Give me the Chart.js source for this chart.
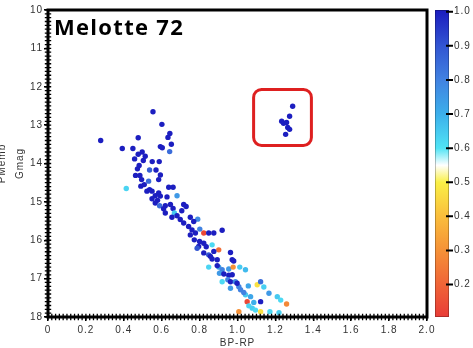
<!DOCTYPE html>
<html>
<head>
<meta charset="utf-8">
<title>Melotte 72 CMD</title>
<script src="https://cdn.jsdelivr.net/npm/chart.js@4.4.1/dist/chart.umd.min.js"></script>
<style>
  html, body { margin: 0; padding: 0; background: #fff; }
  #wrap { width: 473px; height: 348px; }
</style>
</head>
<body>
<div id="wrap"><canvas id="cmd"></canvas></div>
<script>
// Gaia colour, G magnitude and membership probability for each star
const bpRp = [
  0.554, 0.601, 0.643, 0.633, 0.651, 0.593, 0.603, 0.642, 0.278, 0.392,
  0.476, 0.448, 0.497, 0.476, 0.513, 0.457, 0.503, 0.550, 0.587, 0.481,
  0.472, 0.536, 0.570, 0.462, 0.485, 0.593, 0.494, 0.531, 0.584, 0.490,
  0.413, 0.536, 0.549, 0.637, 0.660, 0.566, 0.593, 0.681, 0.549, 0.578,
  0.628, 0.566, 0.589, 0.646, 0.716, 0.729, 0.610, 0.660, 0.667, 0.654,
  0.681, 0.751, 0.790, 0.522, 0.508, 0.584, 0.619, 0.619, 0.698, 0.716,
  0.769, 0.706, 0.742, 0.760, 0.778, 0.751, 0.772, 0.800, 0.822, 0.795,
  0.835, 0.787, 0.822, 0.848, 0.875, 0.919, 0.801, 0.866, 0.901, 0.822,
  0.848, 0.875, 0.866, 0.893, 0.963, 0.972, 0.980, 0.848, 0.901, 0.919,
  0.954, 0.977, 1.012, 1.042, 0.905, 0.928, 0.954, 0.972, 0.919, 0.949,
  0.963, 0.989, 1.007, 0.963, 1.016, 1.057, 1.104, 1.122, 1.139, 1.042,
  1.069, 1.051, 1.122, 1.166, 1.210, 1.228, 1.259, 1.060, 1.078, 1.095,
  1.086, 1.007, 1.122, 1.171, 1.219, 1.033, 0.893, 0.857, 0.998,
  1.291, 1.275, 1.233, 1.243, 1.259, 1.265, 1.275, 1.254
];
const gMag = [
  12.65, 12.98, 13.22, 13.32, 13.50, 13.56, 13.59, 13.69, 13.40, 13.61,
  13.33, 13.61, 13.70, 13.76, 13.81, 13.88, 13.92, 13.95, 13.95, 14.05,
  14.14, 14.17, 14.17, 14.31, 14.31, 14.30, 14.42, 14.46, 14.42, 14.59,
  14.65, 14.68, 14.72, 14.62, 14.62, 14.84, 14.85, 14.84, 14.92, 14.96,
  14.87, 15.03, 15.10, 15.07, 15.07, 15.12, 15.18, 15.17, 15.29, 15.40,
  15.36, 15.40, 15.45, 14.72, 14.55, 14.77, 15.10, 15.29, 15.46, 15.55,
  15.51, 15.23, 15.64, 15.73, 15.81, 15.86, 15.99, 16.03, 16.08, 16.16,
  16.17, 16.21, 15.81, 15.81, 15.81, 15.74, 15.71, 16.12, 16.25, 16.33,
  16.38, 16.29, 16.49, 16.51, 16.32, 16.51, 16.54, 16.70, 16.70, 16.77,
  16.75, 16.70, 16.70, 16.77, 16.86, 16.88, 16.91, 16.90, 17.08, 17.03,
  17.08, 17.08, 17.21, 17.25, 17.29, 17.19, 17.16, 17.08, 17.22, 17.42,
  17.47, 17.60, 17.60, 17.38, 17.47, 17.56, 17.66, 17.71, 17.77, 17.82,
  17.62, 17.86, 17.86, 17.86, 17.89, 17.36, 16.66, 16.42, 17.12,
  12.51, 12.77, 12.90, 12.95, 12.93, 13.06, 13.11, 13.24
];
const pMemb = [
  1, 1, 1, 1, 1, 1, 1, 0.85, 1, 1,
  1, 1, 1, 1, 1, 1, 1, 1, 1, 1,
  1, 0.88, 1, 1, 1, 1, 1, 0.85, 1, 1,
  0.63, 1, 1, 1, 1, 1, 1, 0.75, 1, 1,
  1, 1, 0.85, 1, 1, 1, 1, 1, 0.65, 1,
  1, 1, 0.78, 1, 1, 1, 1, 1, 1, 1,
  1, 1, 1, 1, 1, 1, 1, 1, 1, 1,
  1, 0.9, 0.13, 1, 1, 1, 0.8, 0.62, 0.22, 1,
  0.9, 1, 1, 1, 1, 1, 1, 0.63, 0.75, 0.8,
  0.75, 0.3, 0.65, 0.68, 0.75, 1, 1, 1, 0.62, 0.8,
  1, 0.78, 0.8, 0.75, 0.8, 0.72, 0.47, 0.85, 0.64, 0.65,
  0.72, 0.13, 1, 0.75, 0.65, 0.62, 0.28, 0.63, 0.64, 0.62,
  0.7, 0.3, 0.47, 0.62, 0.64, 0.8, 1, 1, 1,
  1, 1, 1, 1, 1, 1, 1, 1
];

const xTicks = [0, 0.2, 0.4, 0.6, 0.8, 1.0, 1.2, 1.4, 1.6, 1.8, 2.0];
const yTicks = [10, 11, 12, 13, 14, 15, 16, 17, 18];
const pTicks = [0.2, 0.3, 0.4, 0.5, 0.6, 0.7, 0.8, 0.9, 1.0];

const clusterName = 'Melotte 72';
// highlighted group of bright red stars
const boxBp = [1.085, 1.39];
const boxG = [12.07, 13.53];

// probability -> colour, shared by the markers and the colour bar
const cmap = [
  [0.10, [232, 60, 55]],
  [0.20, [240, 100, 55]],
  [0.30, [245, 145, 55]],
  [0.40, [250, 190, 60]],
  [0.50, [250, 240, 70]],
  [0.55, [255, 255, 255]],
  [0.60, [80, 228, 245]],
  [0.70, [60, 175, 235]],
  [0.80, [65, 130, 225]],
  [0.90, [50, 85, 210]],
  [1.00, [28, 30, 192]]
];

function rgb(c) { return `rgb(${c.join(',')})`; }

function probColor(p) {
  for (let i = 1; i < cmap.length; i++) {
    if (p <= cmap[i][0]) {
      const [v0, c0] = cmap[i - 1];
      const [v1, c1] = cmap[i];
      const t = Math.max(0, (p - v0) / (v1 - v0));
      return rgb(c0.map((k, j) => Math.round(k + (c1[j] - k) * t)));
    }
  }
  return rgb(cmap[cmap.length - 1][1]);
}

const family = '"Liberation Sans", Arial, sans-serif';
const tickFont = { family: family, size: 10 };

// frame, minor ticks, colour bar, cluster name and highlight box
const decorations = {
  id: 'decorations',
  beforeDraw(chart) {
    chart.ctx.letterSpacing = '1px';
  },
  afterDraw(chart) {
    const ctx = chart.ctx;
    const area = chart.chartArea;
    const xs = chart.scales.x;
    const ys = chart.scales.y;
    const pm = chart.scales.pm;

    ctx.save();
    ctx.strokeStyle = '#000';

    // minor ticks
    ctx.lineWidth = 1.3;
    ctx.beginPath();
    for (let i = 0; i <= 100; i++) {
      const px = xs.getPixelForValue(i / 50);
      ctx.moveTo(px, area.bottom - 3.2);
      ctx.lineTo(px, area.bottom + 3.2);
    }
    for (let i = 0; i <= 80; i++) {
      const py = ys.getPixelForValue(10 + i / 10);
      ctx.moveTo(area.left - 3.2, py);
      ctx.lineTo(area.left + 3.2, py);
    }
    ctx.stroke();

    ctx.lineWidth = 3;
    ctx.strokeRect(area.left, area.top, area.right - area.left, area.bottom - area.top);

    // highlight box
    const bx0 = xs.getPixelForValue(boxBp[0]);
    const bx1 = xs.getPixelForValue(boxBp[1]);
    const by0 = ys.getPixelForValue(boxG[0]);
    const by1 = ys.getPixelForValue(boxG[1]);
    ctx.strokeStyle = 'rgb(222,32,32)';
    ctx.lineWidth = 3;
    ctx.beginPath();
    ctx.roundRect(bx0, by0, bx1 - bx0, by1 - by0, 8);
    ctx.stroke();

    // cluster name
    ctx.letterSpacing = '1.3px';
    ctx.fillStyle = '#000';
    ctx.font = '700 22px "Open Sans", sans-serif';
    ctx.textAlign = 'left';
    ctx.textBaseline = 'alphabetic';
    ctx.fillText(clusterName, area.left + 6, area.top + 25);

    // colour bar
    const top = pm.getPixelForValue(pm.max);
    const bot = pm.getPixelForValue(pm.min);
    const barX = area.right + 8;
    const barW = 14;
    const grad = ctx.createLinearGradient(0, top, 0, bot);
    cmap.forEach(([v, c]) => {
      const t = (pm.max - v) / (pm.max - pm.min);
      grad.addColorStop(Math.min(1, Math.max(0, t)), rgb(c));
    });
    ctx.fillStyle = grad;
    ctx.fillRect(barX, top, barW, bot - top);
    ctx.strokeStyle = 'rgba(0,0,0,0.25)';
    ctx.lineWidth = 1;
    ctx.strokeRect(barX + 0.5, top + 0.5, barW - 1, bot - top - 1);
    ctx.strokeStyle = '#000';
    ctx.lineWidth = 2;
    ctx.beginPath();
    pTicks.forEach(v => {
      const py = pm.getPixelForValue(v);
      ctx.moveTo(barX + barW - 3, py);
      ctx.lineTo(barX + barW + 4, py);
    });
    ctx.stroke();

    // membership label, partly off the left edge
    ctx.letterSpacing = '1px';
    ctx.fillStyle = '#333';
    ctx.font = `10px ${family}`;
    ctx.textAlign = 'center';
    ctx.translate(4.5, (area.top + area.bottom) / 2);
    ctx.rotate(-Math.PI / 2);
    ctx.fillText('PMemb', 0, 0);
    ctx.restore();
  }
};

const stars = bpRp.map((x, i) => ({ x: x, y: gMag[i] }));

new Chart(document.getElementById('cmd'), {
  type: 'scatter',
  data: {
    datasets: [{
      data: stars,
      pointRadius: 2.7,
      pointHoverRadius: 2.7,
      pointBorderWidth: 0,
      pointBackgroundColor: pMemb.map(probColor)
    }]
  },
  options: {
    responsive: true,
    maintainAspectRatio: false,
    animation: false,
    devicePixelRatio: 1,
    layout: { padding: { top: 10, right: 0, bottom: 0, left: 0 } },
    plugins: {
      legend: { display: false },
      tooltip: { enabled: false }
    },
    scales: {
      x: {
        type: 'linear',
        position: 'bottom',
        min: 0,
        max: 2,
        afterBuildTicks: s => { s.ticks = xTicks.map(value => ({ value })); },
        afterFit: s => { s.height = 31; },
        border: { display: false },
        grid: { drawOnChartArea: false, tickLength: 4, color: '#000', lineWidth: 1.5 },
        ticks: {
          font: tickFont, color: '#333', padding: 3, maxRotation: 0, autoSkip: false,
          callback: v => v === 0 ? '0' : v.toFixed(1)
        },
        title: {
          display: true, text: 'BP-RP', color: '#333',
          font: { family: family, size: 10, lineHeight: 1 }, padding: 0
        }
      },
      y: {
        type: 'linear',
        position: 'left',
        reverse: true,
        min: 10,
        max: 18,
        afterBuildTicks: s => { s.ticks = yTicks.map(value => ({ value })); },
        afterFit: s => { s.width = 48; },
        border: { display: false },
        grid: { drawOnChartArea: false, tickLength: 4, color: '#000', lineWidth: 1.5 },
        ticks: { font: tickFont, color: '#333', padding: 1, autoSkip: false },
        title: {
          display: true, text: 'Gmag', color: '#333',
          font: { family: family, size: 10, lineHeight: 1.2 }, padding: { top: 14, bottom: 0 }
        }
      },
      pm: {
        type: 'linear',
        axis: 'y',
        position: 'right',
        min: 0.105,
        max: 1.005,
        afterBuildTicks: s => { s.ticks = pTicks.map(value => ({ value })); },
        afterFit: s => { s.width = 46; },
        border: { display: false },
        // hidden tick marks only reserve room for the colour bar
        grid: { display: false, drawTicks: true, tickLength: 26 },
        ticks: {
          font: tickFont, color: '#333', padding: 1, autoSkip: false,
          callback: v => v.toFixed(1)
        }
      }
    }
  },
  plugins: [decorations]
});
</script>
</body>
</html>
